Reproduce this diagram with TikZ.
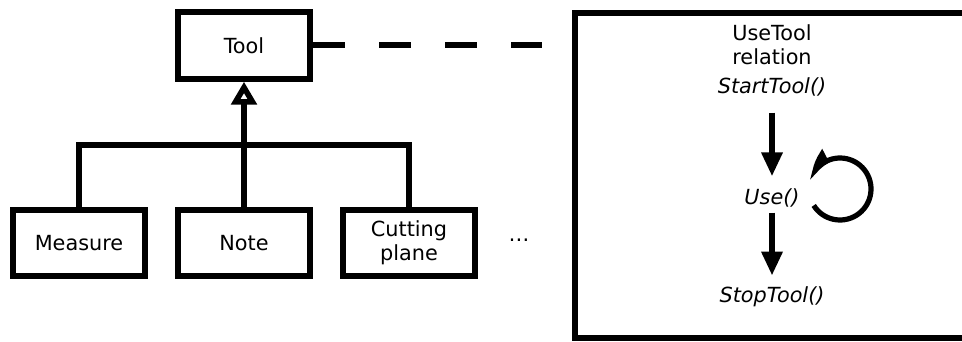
\documentclass[tikz,border=0pt]{standalone}
\usepackage{fontspec}
\setmainfont{DejaVu Sans}
\usetikzlibrary{arrows.meta,bending}

\begin{document}
\begin{tikzpicture}[
  font=\fontsize{14.8}{17}\selectfont,
  class/.style={draw, line width=0.15cm, minimum width=3.3cm,
                minimum height=1.66cm, align=center, inner sep=0pt},
  link/.style={line width=0.14cm},
  inherit/.style={link, -{Triangle[open, length=0.575cm, width=0.625cm]}},
  assoc/.style={line width=0.15cm, dash pattern=on 0.8cm off 0.85cm},
  call/.style={font=\fontsize{14.8}{17}\selectfont\itshape, inner sep=0pt},
  flow/.style={line width=0.15cm, -{Triangle[length=0.6cm, width=0.5cm]}},
  again/.style={line width=0.13cm, -{Triangle[right, length=0.55cm, width=0.6cm, bend]}},
  frame/.style={line width=0.15cm},
]
\useasboundingbox (0,0) rectangle (24.05,-8.55);

\node[class] (tool) at (6.1,-1.1375) {Tool};
\node[class] (measure) at (1.975,-6.075) {Measure};
\node[class] (note) at (6.1,-6.075) {Note};
\node[class] (cutting) at (10.225,-6.075) {Cutting\\plane};
\node (more) at (12.975,-6.0) {\dots};

\coordinate (bus) at (6.1,-3.625);
\draw[link] (measure.north) |- (bus) -| (cutting.north);
\draw[inherit] (note.north) -- (tool.south);

\coordinate (relend) at (13.55,-1.1375);
\draw[assoc] (tool.east) -- (relend);

\draw[frame] (24.3,-0.325) -- (14.375,-0.325) -- (14.375,-8.45) -- (24.3,-8.45);

\node[align=center, inner sep=0pt] (title) at (19.3,-1.125) {UseTool\\relation};
\node[call] (start) at (19.3,-2.175) {StartTool()};
\node[call] (use) at (19.3,-4.95) {Use()};
\node[call] (stop) at (19.3,-7.425) {StopTool()};

\draw[flow, shorten <=0.4cm, shorten >=0.3cm] (start.south) -- (use.north);
\draw[flow, shorten <=0.125cm, shorten >=0.275cm] (use.south) -- (stop.north);

\coordinate (turn) at (21.0,-4.725);
\draw[again] ([shift={(212:0.775)}]turn) arc[start angle=212, end angle=522, radius=0.775];
\end{tikzpicture}
\end{document}
